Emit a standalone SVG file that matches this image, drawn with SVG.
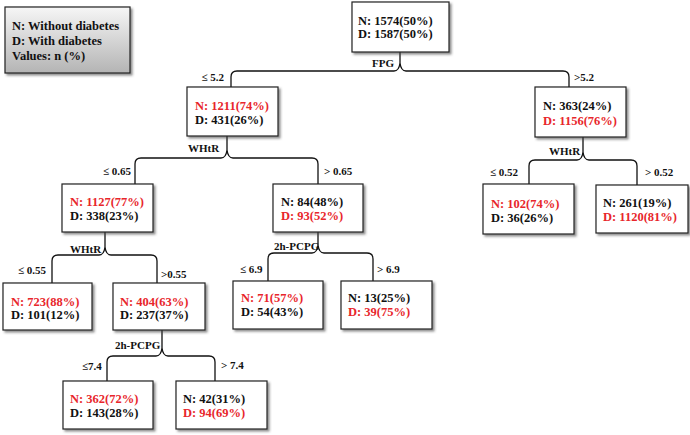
<svg xmlns="http://www.w3.org/2000/svg" width="690" height="435" viewBox="0 0 690 435">
<defs>
<linearGradient id="lg" x1="0" y1="0" x2="0" y2="1">
<stop offset="0" stop-color="#f6f6f6"/>
<stop offset="1" stop-color="#b4b4b4"/>
</linearGradient>
<filter id="sh" x="-10%" y="-10%" width="130%" height="140%">
<feDropShadow dx="2" dy="2" stdDeviation="1.3" flood-color="#444" flood-opacity="0.6"/>
</filter>
</defs>
<style>
.box{fill:#fff;stroke:#222;stroke-width:1.2;filter:url(#sh)}
.leg{fill:url(#lg);stroke:#222;stroke-width:1.2;filter:url(#sh)}
.t{font-family:"Liberation Serif","Times New Roman",serif;font-weight:bold;font-size:12.5px;fill:#111}
.r{fill:#e8262b}
.lab{font-family:"Liberation Serif","Times New Roman",serif;font-weight:bold;font-size:11px;fill:#111}
.br{fill:none;stroke:#111;stroke-width:1.3}
</style>
<rect width="690" height="435" fill="#fff"/>

<g id="legend">
<rect class="leg" x="5" y="7" width="125" height="66"/>
<text class="t" x="12" y="30">N: Without diabetes</text>
<text class="t" x="12" y="45">D: With diabetes</text>
<text class="t" x="12" y="60">Values: n (%)</text>
</g>

<g id="connectors">
<path class="br" d="M231,87 L231,77 Q231,71 237,71 L394,71 Q399,71 400,63 L400,52 M400,63 Q401,71 406,71 L563,71 Q569,71 569,77 L569,87"/>
<path class="br" d="M135,184 L135,164 Q135,158 141,158 L221,158 Q226,158 227,150 L227,136 M227,150 Q228,158 233,158 L312,158 Q318,158 318,164 L318,184"/>
<path class="br" d="M52,283 L52,261 Q52,255 58,255 L99,255 Q104,255 105,247 L105,232 M105,247 Q106,255 111,255 L151,255 Q157,255 157,261 L157,283"/>
<path class="br" d="M268,281 L268,259 Q268,253 274,253 L312,253 Q317,253 318,245 L318,232 M318,245 Q319,253 324,253 L367,253 Q373,253 373,259 L373,281"/>
<path class="br" d="M529,184 L529,166 Q529,160 535,160 L577,160 Q582,160 583,152 L583,137 M583,152 Q584,160 589,160 L631,160 Q637,160 637,166 L637,185"/>
<path class="br" d="M107,381 L107,362 Q107,356 113,356 L156,356 Q161,356 162,348 L162,330 M162,348 Q163,356 168,356 L209,356 Q215,356 215,362 L215,381"/>
<text class="lab" x="372" y="67">FPG</text>
<text class="lab" x="224" y="81" text-anchor="end">≤ 5.2</text>
<text class="lab" x="574" y="81">&gt;5.2</text>
<text class="lab" x="188" y="152">WHtR</text>
<text class="lab" x="131" y="175" text-anchor="end">≤ 0.65</text>
<text class="lab" x="324" y="175">&gt; 0.65</text>
<text class="lab" x="549" y="155">WHtR</text>
<text class="lab" x="490" y="176">≤  0.52</text>
<text class="lab" x="645" y="176">&gt; 0.52</text>
<text class="lab" x="70" y="253">WHtR</text>
<text class="lab" x="18" y="274">≤ 0.55</text>
<text class="lab" x="161" y="278">&gt;0.55</text>
<text class="lab" x="274" y="250">2h-PCPG</text>
<text class="lab" x="240" y="273">≤ 6.9</text>
<text class="lab" x="377" y="273">&gt; 6.9</text>
<text class="lab" x="115" y="349">2h-PCPG</text>
<text class="lab" x="82" y="370">≤7.4</text>
<text class="lab" x="221" y="369">&gt; 7.4</text>
</g>

<g id="n-root">
<rect class="box" x="352" y="2" width="97" height="50"/>
<text class="t" x="358" y="25">N: 1574(50%)</text>
<text class="t" x="358" y="38">D: 1587(50%)</text>
</g>
<g id="n-1211">
<rect class="box" x="187" y="87" width="91" height="49"/>
<text class="t r" x="195" y="110">N: 1211(74%)</text>
<text class="t" x="195" y="124">D: 431(26%)</text>
</g>
<g id="n-363">
<rect class="box" x="535" y="87" width="91" height="50"/>
<text class="t" x="543" y="110">N: 363(24%)</text>
<text class="t r" x="543" y="125">D: 1156(76%)</text>
</g>
<g id="n-1127">
<rect class="box" x="62" y="184" width="91" height="48"/>
<text class="t r" x="70" y="206">N: 1127(77%)</text>
<text class="t" x="70" y="220">D: 338(23%)</text>
</g>
<g id="n-84">
<rect class="box" x="273" y="184" width="90" height="48"/>
<text class="t" x="281" y="206">N: 84(48%)</text>
<text class="t r" x="281" y="220">D: 93(52%)</text>
</g>
<g id="n-102">
<rect class="box" x="483" y="184" width="91" height="50"/>
<text class="t r" x="491" y="208">N: 102(74%)</text>
<text class="t" x="491" y="222">D: 36(26%)</text>
</g>
<g id="n-261">
<rect class="box" x="596" y="185" width="92" height="48"/>
<text class="t" x="603" y="207">N: 261(19%)</text>
<text class="t r" x="603" y="221">D: 1120(81%)</text>
</g>
<g id="n-723">
<rect class="box" x="3" y="283" width="89" height="47"/>
<text class="t r" x="11" y="306">N: 723(88%)</text>
<text class="t" x="11" y="319">D: 101(12%)</text>
</g>
<g id="n-404">
<rect class="box" x="113" y="283" width="92" height="47"/>
<text class="t r" x="120" y="306">N: 404(63%)</text>
<text class="t" x="120" y="319">D: 237(37%)</text>
</g>
<g id="n-71">
<rect class="box" x="233" y="281" width="90" height="48"/>
<text class="t r" x="241" y="302">N: 71(57%)</text>
<text class="t" x="241" y="316">D: 54(43%)</text>
</g>
<g id="n-13">
<rect class="box" x="341" y="281" width="91" height="48"/>
<text class="t" x="348" y="302">N: 13(25%)</text>
<text class="t r" x="348" y="316">D: 39(75%)</text>
</g>
<g id="n-362">
<rect class="box" x="63" y="381" width="90" height="48"/>
<text class="t r" x="70" y="403">N: 362(72%)</text>
<text class="t" x="70" y="417">D: 143(28%)</text>
</g>
<g id="n-42">
<rect class="box" x="176" y="381" width="91" height="48"/>
<text class="t" x="183" y="403">N: 42(31%)</text>
<text class="t r" x="183" y="417">D: 94(69%)</text>
</g>
</svg>
